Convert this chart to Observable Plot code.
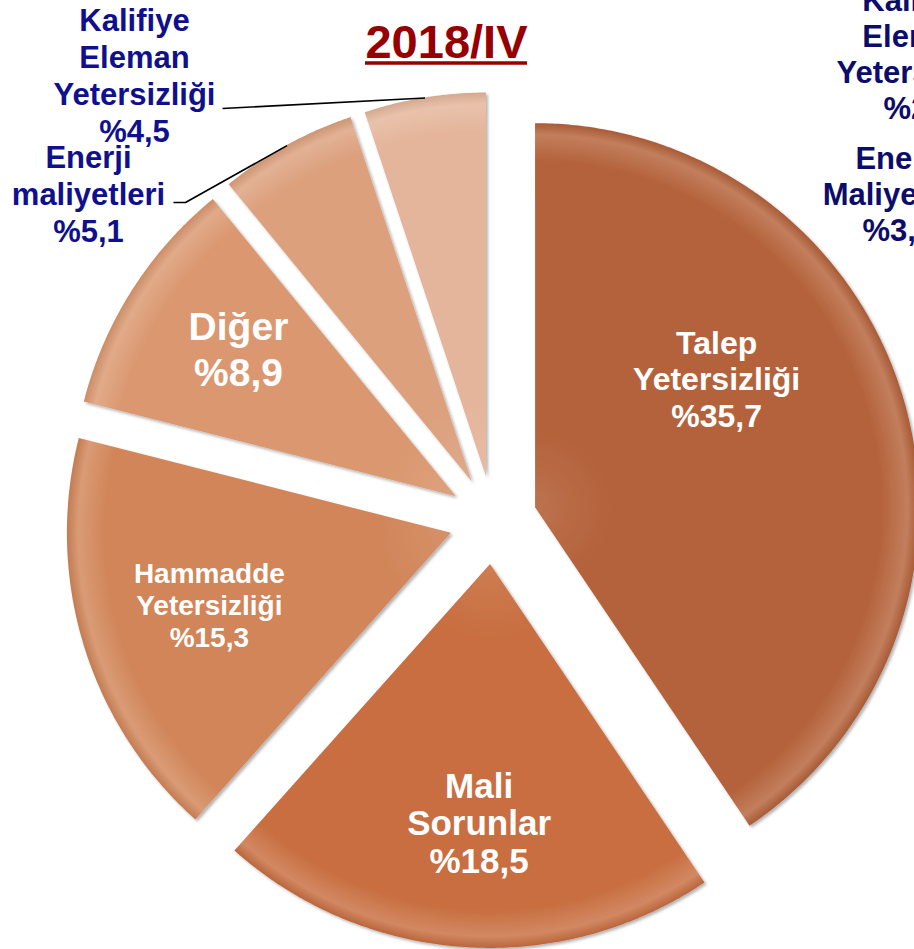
<!DOCTYPE html>
<html>
<head>
<meta charset="utf-8">
<script src="https://cdn.jsdelivr.net/npm/d3@7"></script>
<script src="https://cdn.jsdelivr.net/npm/@observablehq/plot@0.6"></script>
<style>
  html, body { margin: 0; padding: 0; background: #fff; overflow: hidden; }
  #chart { width: 914px; height: 949px; overflow: hidden; position: relative; }
</style>
</head>
<body>
<div id="chart"></div>
<script>
// ---------------- data ----------------
const title = "2018/IV";
const categories = ["Talep Yetersizliği", "Mali Sorunlar", "Hammadde Yetersizliği", "Diğer", "Enerji maliyetleri", "Kalifiye Eleman Yetersizliği"];
const values = [35.7, 18.5, 15.3, 8.9, 5.1, 4.5];
const nameLabels = ["Talep\nYetersizliği", "Mali\nSorunlar", "Hammadde\nYetersizliği", "Diğer", "Enerji\nmaliyetleri", "Kalifiye\nEleman\nYetersizliği"];
const valueLabels = ["%35,7", "%18,5", "%15,3", "%8,9", "%5,1", "%4,5"];
// labels of the neighbouring chart, cut off by the right edge of the picture
const sideNames = ["Kalifiye\nEleman\nYetersizliği", "Enerji\nMaliyetleri"];
const sideValues = ["%2", "%3,"];

// ---------------- style / layout ----------------
const sliceColors = ["#B4623A", "#C86E40", "#D18558", "#DA976F", "#DCA07D", "#E4B59A"];
const FONT = "'Liberation Sans', Arial, Helvetica, sans-serif";
const NAVY = "#10108C", NAVY2 = "#0C0C6A", TITLE_RED = "#960000";
const W = 914, H = 949;
const CX = 493, CY = 520;      // pie centre (px)
const K = 384;                 // radius (px per unit)
const EXPLODE = 44 / K;        // explode distance (units)
const LABEL_R = 0.67;
const insideFont = [32, 35, 28, 39];
const insideLH = [1.14, 1.07, 1.14, 1.18];
const insideNudge = [[-65, -54], [6, 2], [4, -4], [-1, -10]];
const callouts = {
  4: {tx: 88, ty: 192.4, lead: [[173, 202], [185, 202]]},
  5: {tx: 134, ty: 73.9, lead: [[222, 108]]}
};
const px = v => (v - CX) / K;          // pixel -> data x
const py = v => (CY - v) / K;          // pixel -> data y

// ---------------- geometry from the values ----------------
const arcs = d3.pie().sort(null).value(d => d)(values);
const slices = arcs.map((a, i) => {
  const mid = (a.startAngle + a.endAngle) / 2;
  const ox = EXPLODE * Math.sin(mid), oy = EXPLODE * Math.cos(mid);
  const n = Math.max(2, Math.ceil((a.endAngle - a.startAngle) / (Math.PI / 360)));
  const rows = [];
  for (let j = 0; j <= n; j++) {
    const t = a.startAngle + (a.endAngle - a.startAngle) * j / n;
    rows.push({x: ox + Math.sin(t), y: oy + Math.cos(t), ax: ox, ay: oy, category: categories[i]});
  }
  return {i, mid, ox, oy, rows, value: values[i], category: categories[i]};
});

const marks = [];
// slices: area between the outer arc and the (exploded) apex
slices.forEach(s => {
  marks.push(Plot.area(s.rows, {
    x1: "x", y1: "y", x2: "ax", y2: "ay", curve: "linear",
    fill: sliceColors[s.i]
  }));
});
// inside labels
slices.filter(s => s.value >= 6).forEach(s => {
  const row = {
    x: s.ox + LABEL_R * Math.sin(s.mid),
    y: s.oy + LABEL_R * Math.cos(s.mid),
    text: nameLabels[s.i] + "\n" + valueLabels[s.i]
  };
  marks.push(Plot.text([row], {
    x: "x", y: "y", text: "text", fill: "white",
    fontSize: insideFont[s.i], fontWeight: "bold", lineHeight: insideLH[s.i],
    dx: insideNudge[s.i][0], dy: insideNudge[s.i][1], fontFamily: FONT
  }));
});
// callouts with leader lines
slices.filter(s => s.value < 6).forEach(s => {
  const c = callouts[s.i];
  const leader = c.lead.map(([a, b]) => ({x: px(a), y: py(b)}));
  leader.push({x: s.ox + Math.sin(s.mid), y: s.oy + Math.cos(s.mid)});
  marks.push(Plot.line(leader, {x: "x", y: "y", stroke: "#000", strokeWidth: 1.6, strokeLinecap: "butt"}));
  marks.push(Plot.text([{x: px(c.tx), y: py(c.ty), text: nameLabels[s.i] + "\n" + valueLabels[s.i]}], {
    x: "x", y: "y", text: "text", fill: NAVY, fontSize: 31, fontWeight: "bold",
    lineHeight: 1.19, fontFamily: FONT
  }));
});
// neighbouring chart's labels (clipped by the right edge)
marks.push(Plot.text([{x: px(917), y: py(35.4), text: sideNames[0]}], {
  x: "x", y: "y", text: "text", fill: NAVY2, fontSize: 31, fontWeight: "bold", lineHeight: 1.16, fontFamily: FONT
}));
marks.push(Plot.text([{x: px(883), y: py(108.4), text: sideValues[0]}], {
  x: "x", y: "y", text: "text", textAnchor: "start", fill: NAVY2, fontSize: 31, fontWeight: "bold", fontFamily: FONT
}));
marks.push(Plot.text([{x: px(898), y: py(175.4), text: sideNames[1]}], {
  x: "x", y: "y", text: "text", fill: NAVY2, fontSize: 31, fontWeight: "bold", lineHeight: 1.16, fontFamily: FONT
}));
marks.push(Plot.text([{x: px(862), y: py(230.4), text: sideValues[1]}], {
  x: "x", y: "y", text: "text", textAnchor: "start", fill: NAVY2, fontSize: 31, fontWeight: "bold", fontFamily: FONT
}));
// title + underline
marks.push(Plot.text([{x: px(446), y: py(42), text: title}], {
  x: "x", y: "y", text: "text",
  fill: TITLE_RED, fontSize: 47, fontWeight: "bold", fontFamily: FONT
}));
marks.push(Plot.ruleY([py(62.5)], {x1: px(365), x2: px(527), stroke: TITLE_RED, strokeWidth: 3.5}));

const chart = Plot.plot({
  width: W, height: H, margin: 0,
  x: {domain: [-CX / K, (W - CX) / K], axis: null},
  y: {domain: [-(H - CY) / K, CY / K], axis: null},
  style: {background: "white", fontFamily: FONT, overflow: "hidden"},
  marks
});
document.getElementById("chart").append(chart);

// ---------------- shading (bevel-like gradients + soft shadow) ----------------
try {
  const svg = chart.tagName.toLowerCase() === "svg" ? chart : chart.querySelector("svg");
  const ns = "http://www.w3.org/2000/svg";
  const defs = document.createElementNS(ns, "defs");
  const filt = document.createElementNS(ns, "filter");
  filt.setAttribute("id", "slice-shadow");
  filt.setAttribute("x", "-5%"); filt.setAttribute("y", "-5%");
  filt.setAttribute("width", "115%"); filt.setAttribute("height", "115%");
  const ds = document.createElementNS(ns, "feDropShadow");
  ds.setAttribute("dx", "2"); ds.setAttribute("dy", "2");
  ds.setAttribute("stdDeviation", "1.5"); ds.setAttribute("flood-color", "#000");
  ds.setAttribute("flood-opacity", "0.3");
  filt.appendChild(ds); defs.appendChild(filt);
  slices.forEach(s => {
    const c = sliceColors[s.i];
    const g = document.createElementNS(ns, "radialGradient");
    g.setAttribute("id", "slice-grad-" + s.i);
    g.setAttribute("gradientUnits", "userSpaceOnUse");
    g.setAttribute("cx", String(CX + s.ox * K));
    g.setAttribute("cy", String(CY - s.oy * K));
    g.setAttribute("r", String(K));
    const light = d3.interpolateRgb(c, "#fff")(0.18);
    const dark = d3.color(c).darker(0.2).formatHex();
    [[0, d3.interpolateRgb(c, "#fff")(0.1)], [0.2, c], [0.9, c], [0.97, light], [1, dark]].forEach(([o, col]) => {
      const st = document.createElementNS(ns, "stop");
      st.setAttribute("offset", String(o));
      st.setAttribute("stop-color", col);
      g.appendChild(st);
    });
    defs.appendChild(g);
  });
  svg.insertBefore(defs, svg.firstChild);
  svg.querySelectorAll('g[aria-label="area"]').forEach((g, k) => {
    g.setAttribute("filter", "url(#slice-shadow)");
    g.querySelectorAll("path").forEach(p => p.setAttribute("fill", "url(#slice-grad-" + k + ")"));
    g.removeAttribute("fill");
  });
} catch (e) { console.error(e); }
</script>
</body>
</html>
